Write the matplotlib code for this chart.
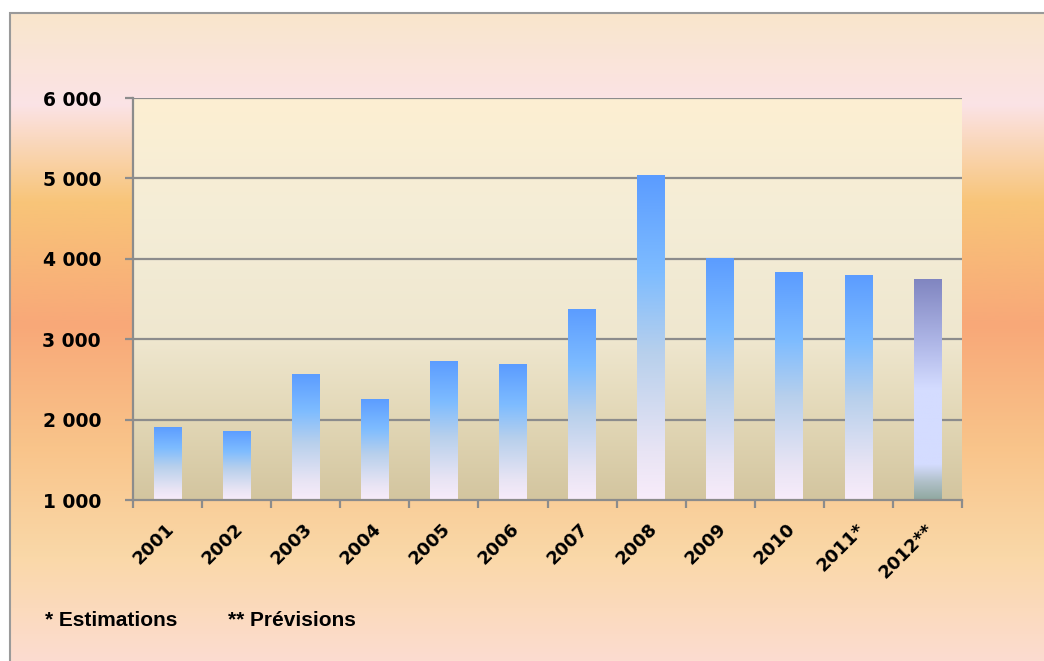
import numpy as np
import matplotlib
matplotlib.use("Agg")
import matplotlib.pyplot as plt
from matplotlib.colors import LinearSegmentedColormap
from matplotlib.patches import Rectangle
from matplotlib.ticker import FuncFormatter

# yearly totals (2011 estimated, 2012 forecast)
years = ["2001", "2002", "2003", "2004", "2005", "2006",
         "2007", "2008", "2009", "2010", "2011*", "2012**"]
values = [1910, 1860, 2570, 2260, 2730, 2690, 3380, 5040, 4010, 3830, 3800, 3750]
footnotes = ["* Estimations", "** Prévisions"]

y_min, y_max = 1000, 6000

# colour ramps, listed bottom -> top
bg_cmap = LinearSegmentedColormap.from_list("bg", [
    (0.00, "#fcdcd0"), (0.16, "#fad8a8"), (0.33, "#f9c48a"),
    (0.52, "#f8a878"), (0.71, "#f8c579"), (0.86, "#fbe3e6"), (1.00, "#f9e6cc")])
plot_cmap = LinearSegmentedColormap.from_list("plotbg", [
    (0.00, "#d3c59f"), (0.20, "#e2d7b6"), (0.40, "#efe7cf"),
    (0.70, "#f4edd7"), (1.00, "#fdefd2")])
bar_cmap = LinearSegmentedColormap.from_list("bar", [
    (0.00, "#f8ecfa"), (0.15, "#e8e4f4"), (0.45, "#b8d0ec"),
    (0.70, "#7ebcff"), (1.00, "#5b9cff")])
last_cmap = LinearSegmentedColormap.from_list("last", [
    (0.00, "#90a8a0"), (0.08, "#b0c0c8"), (0.16, "#d4dcff"),
    (0.50, "#d4dcff"), (0.70, "#b0b8e8"), (1.00, "#8085c0")])

W, H = 1044, 661
fig = plt.figure(figsize=(W / 100, H / 100), dpi=100)
fig.patch.set_facecolor("white")

# framed background with vertical gradient
bg = fig.add_axes([10 / W, 0, 1 - 10 / W, 1 - 13 / H], zorder=-10)
grad = np.linspace(0, 1, 256).reshape(-1, 1)
bg.imshow(grad, aspect="auto", cmap=bg_cmap, origin="lower", extent=[0, 1, 0, 1])
bg.set_xlim(0, 1)
bg.set_ylim(0, 1)
bg.axis("off")
fig.patches.append(Rectangle((10 / W, -0.01), 1.0, 1 - 13 / H + 0.01,
                             transform=fig.transFigure, fill=False,
                             edgecolor="#9a9a9a", linewidth=1.5, zorder=5))

ax = fig.add_axes([133 / W, 1 - 500 / H, (962 - 133) / W, (500 - 98) / H])
ax.set_facecolor("none")
x = np.arange(len(years))

ax.imshow(grad, aspect="auto", cmap=plot_cmap, origin="lower",
          extent=[-0.5, len(years) - 0.5, y_min, y_max], zorder=0)

for yv in range(2000, y_max + 1, 1000):
    ax.axhline(yv, color="#8c8c8c", linewidth=1.6, zorder=1)

bars = ax.bar(x, [v - y_min for v in values], bottom=y_min, width=0.4,
              color="none", edgecolor="none", zorder=2)
for i, patch in enumerate(bars.patches):
    cm = last_cmap if i == len(years) - 1 else bar_cmap
    im = ax.imshow(grad, aspect="auto", cmap=cm, origin="lower",
                   extent=[x[i] - 0.2, x[i] + 0.2, y_min, values[i]], zorder=2)
    im.set_clip_path(patch)

ax.set_xlim(-0.5, len(years) - 0.5)
ax.set_ylim(y_min, y_max)

for s in ["top", "right"]:
    ax.spines[s].set_visible(False)
for s in ["left", "bottom"]:
    ax.spines[s].set_color("#8c8c8c")
    ax.spines[s].set_linewidth(1.6)

ax.set_yticks(range(y_min, y_max + 1, 1000))
ax.yaxis.set_major_formatter(FuncFormatter(lambda v, p: f"{int(v):,}".replace(",", " ")))
ax.tick_params(axis="y", length=6, width=1.6, color="#8c8c8c", pad=17)
for lab in ax.get_yticklabels():
    lab.set_fontfamily("DejaVu Sans")
    lab.set_fontweight("bold")
    lab.set_fontsize(13.5)

# year labels centred under bars, tick marks between categories
ax.set_xticks(np.arange(-0.5, len(years), 1.0))
ax.set_xticklabels([])
ax.tick_params(axis="x", length=6, width=1.6, color="#8c8c8c")
for i, yr in enumerate(years):
    ax.text(x[i] - 0.04, y_min - 250, yr, rotation=45, ha="right", va="top",
            rotation_mode="anchor", fontsize=13, fontweight="bold",
            family="DejaVu Sans", clip_on=False)

fig.text(45 / W, 1 - 620 / H, footnotes[0], fontsize=15, fontweight="bold",
         family="Liberation Sans", va="center")
fig.text(228 / W, 1 - 620 / H, footnotes[1], fontsize=15, fontweight="bold",
         family="Liberation Sans", va="center")

fig.savefig("out.png", dpi=100)
